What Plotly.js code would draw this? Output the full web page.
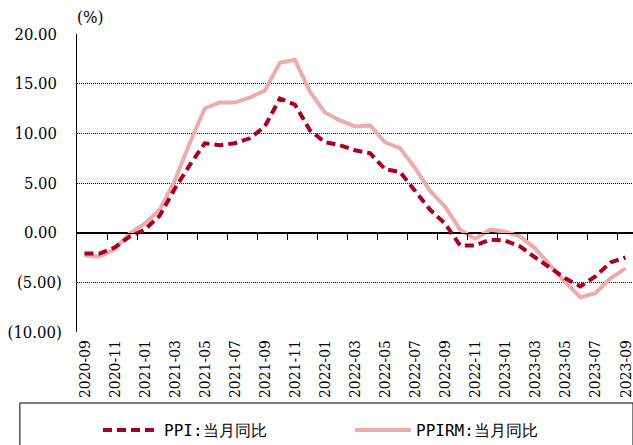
<!DOCTYPE html>
<html>
<head>
<meta charset="utf-8">
<script src="https://cdn.plot.ly/plotly-3.0.1.min.js"></script>
<style>html,body{margin:0;padding:0;background:#fff;}#chart{width:633px;height:445px;}</style>
</head>
<body>
<div id="chart"></div>
<script>
const months = ["2020-09","2020-10","2020-11","2020-12","2021-01","2021-02","2021-03","2021-04","2021-05","2021-06","2021-07","2021-08","2021-09","2021-10","2021-11","2021-12","2022-01","2022-02","2022-03","2022-04","2022-05","2022-06","2022-07","2022-08","2022-09","2022-10","2022-11","2022-12","2023-01","2023-02","2023-03","2023-04","2023-05","2023-06","2023-07","2023-08","2023-09"];
const ppi = [-2.1,-2.1,-1.5,-0.4,0.3,1.7,4.4,6.8,9.0,8.8,9.0,9.5,10.7,13.5,12.9,10.3,9.1,8.8,8.3,8.0,6.4,6.1,4.2,2.3,0.9,-1.3,-1.3,-0.7,-0.8,-1.4,-2.5,-3.6,-4.6,-5.4,-4.4,-3.0,-2.5];
const ppirm = [-2.3,-2.4,-1.7,-0.1,0.9,2.3,5.2,9.0,12.5,13.1,13.1,13.6,14.3,17.1,17.4,14.2,12.1,11.3,10.7,10.8,9.1,8.5,6.5,4.2,2.6,0.3,-0.6,0.3,0.1,-0.4,-1.6,-3.3,-5.0,-6.5,-6.1,-4.6,-3.6];
const yTickVals = [20,15,10,5,0,-5,-10];
const yTickText = ["20.00\u00a0","15.00\u00a0","10.00\u00a0","5.00\u00a0","0.00\u00a0","(5.00)","(10.00)"];
const seriesNames = ["PPI:当月同比","PPIRM:当月同比"];

const yMin = -10, yMax = 20;
const idx = months.map((m,i)=>i);
const labelIdx = idx.filter(i=>i%2===0);
const labelText = labelIdx.map(i=>months[i]);
const boundaryTicks = idx.filter(i=>i%2===1 && i<months.length-1).map(i=>i+0.5);
const zeroFrac = (0 - yMin) / (yMax - yMin);

const serif = "DejaVu Serif Condensed, DejaVu Serif";
const legFont = {family:"DejaVu Sans Mono", size:16, color:'#000'};

const traces = [
  {x: [], y: [], xaxis:'x2', yaxis:'y2', showlegend:false, hoverinfo:'skip', type:'scatter', mode:'lines'},
  {x: idx, y: ppirm, name: seriesNames[1], type:'scatter', mode:'lines',
   line:{color:'rgb(236,172,170)', width:4}, legend:'legend2'},
  {x: idx, y: ppi, name: seriesNames[0], type:'scatter', mode:'lines',
   line:{color:'rgb(168,0,36)', width:4, dash:'9px,5px'}, legend:'legend'}
];

const layout = {
  width:633, height:445,
  font:{color:'#000'},
  margin:{l:77, r:0, t:34, b:113},
  paper_bgcolor:'#fff', plot_bgcolor:'rgba(0,0,0,0)',
  showlegend:true,
  xaxis:{range:[-0.5,36.5], domain:[0,1], tickmode:'array', tickvals:labelIdx, ticktext:labelText,
    tickangle:-90, tickfont:{family:serif, stretch:'condensed', size:15.5, color:'#000'}, ticklabeloverflow:'allow',
    showgrid:false, zeroline:false, showline:false, ticks:'', ticklabelstandoff:4},
  yaxis:{range:[yMin,yMax], domain:[0,1], tickmode:'array', tickvals:yTickVals, ticktext:yTickText,
    tickfont:{family:serif, stretch:'condensed', size:16.5, color:'#000'}, showgrid:true, gridcolor:'#000', griddash:'1px,1px', gridwidth:1,
    zeroline:true, zerolinecolor:'#000', zerolinewidth:1,
    showline:true, linecolor:'#000', linewidth:1, ticks:'', ticklabelstandoff:11},
  xaxis2:{range:[-0.5,36.5], domain:[0,1], anchor:'y2', side:'bottom',
    tickmode:'array', tickvals:boundaryTicks, showticklabels:false, ticks:'outside', ticklen:6,
    tickcolor:'#000', tickwidth:1, showline:true, linecolor:'#000', linewidth:1, showgrid:false, zeroline:false},
  yaxis2:{range:[0,yMax], domain:[zeroFrac,1], anchor:'x2', showgrid:false, zeroline:false, showline:false,
    showticklabels:false, ticks:''},
  legend:{orientation:'h', x:98/633, xanchor:'left', y:(445-430)/445, yanchor:'middle', xref:'container', yref:'container',
    font:legFont, bgcolor:'rgba(0,0,0,0)', itemwidth:56, borderwidth:0},
  legend2:{orientation:'h', x:350/633, xanchor:'left', y:(445-430)/445, yanchor:'middle', xref:'container', yref:'container',
    font:legFont, bgcolor:'rgba(0,0,0,0)', itemwidth:56, borderwidth:0},
  shapes:[{type:'rect', xref:'paper', yref:'paper', x0:-57/555, x1:1, y0:-(403-332)/298, y1:-(460-332)/298,
    line:{color:'#000', width:1}, fillcolor:'rgba(0,0,0,0)'}],
  annotations:[{text:'(%)', xref:'paper', yref:'paper', x:-2/555, y:1+(34-17)/298, xanchor:'left', yanchor:'middle',
    showarrow:false, font:{family:serif, stretch:'condensed', size:17, color:'#000'}}]
};
Plotly.newPlot('chart', traces, layout, {staticPlot:true, displayModeBar:false});
</script>
</body>
</html>
